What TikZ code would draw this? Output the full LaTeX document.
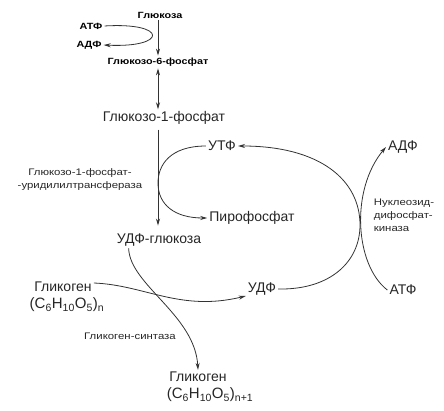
\documentclass[tikz,border=0pt]{standalone}
\usepackage{fontspec}
\setmainfont{Liberation Sans}
\newfontfamily\widefont[FakeStretch=1.2]{Liberation Sans}
\usepackage{tikz}
\usetikzlibrary{arrows.meta,positioning}

\begin{document}
\begin{tikzpicture}[
    x=1pt, y=-1pt,
    big/.style={font=\fontsize{14}{16}\selectfont, inner sep=2pt, text=black!85},
    formula/.style={font=\fontsize{15}{17}\selectfont, inner sep=1pt, text=black!85},
    small/.style={font=\widefont\fontsize{9.5}{13}\selectfont, align=center, inner sep=1pt, text=black!85},
    top/.style={font=\widefont\bfseries\fontsize{9}{11}\selectfont, inner sep=2pt},
    arrow/.style={-{Stealth[length=7pt,width=4pt]}, line width=0.8pt, black!80},
    line/.style={line width=0.8pt, black!80}
]
\useasboundingbox (0,0) rectangle (444,411);
\node[top] (glc) at (160,15) {Глюкоза};
\node[top] (atf1) at (91,26) {АТФ};
\node[top] (adf1) at (89,45) {АДФ};
\node[top] (g6p) at (158,62) {Глюкозо-6-фосфат};
\node[big] (g1p) at (164,118) {Глюкозо-1-фосфат};
\node[big] (utf) at (222,146) {УТФ};
\node[big] (ppi) at (252,218) {Пирофосфат};
\node[big] (udpglc) at (159,240) {УДФ-глюкоза};
\node[big] (udf) at (262,289) {УДФ};
\node[big] (adf2) at (403,147) {АДФ};
\node[big] (atf2) at (403,290) {АТФ};
\node[small] (ugpase) at (80,180) {Глюкозо-1-фосфат-\\-уридилилтрансфераза};
\node[small, align=left] (ndk) at (404,215) {Нуклеозид-\\дифосфат-\\киназа};
\node[small] (gs) at (130,336) {Гликоген-синтаза};
\node[big] (glyc) at (63,287) {Гликоген};
\node[formula] (glycn) at (67,305) {(C\textsubscript{6}H\textsubscript{10}O\textsubscript{5})\textsubscript{n}};
\node[big] (glyc1) at (198,377) {Гликоген};
\node[formula] (glyc1n) at (210,395) {(C\textsubscript{6}H\textsubscript{10}O\textsubscript{5})\textsubscript{n+1}};
\coordinate (bend) at (360,225);

\draw[arrow] (g6p.south |- glc.south) -- (g6p.north);
\draw[arrow] (atf1.east) .. controls (168,22) and (168,48) .. (adf1.east);
\draw[arrow, {Stealth[length=7pt,width=4pt]}-{Stealth[length=7pt,width=4pt]}] (g6p.south) -- (g6p.south |- g1p.north);
\draw[arrow, shorten <=3pt, shorten >=6pt] (g6p.south |- g1p.south) -- (g6p.south |- udpglc.north);
\draw[arrow] (utf.west) .. controls (170,146) and (158,165) .. (158,183)
    .. controls (158,205) and (175,218) .. (ppi.west);
\draw[arrow] (udf.east) .. controls (330,290) and (360,262) .. (bend)
    .. controls (360,180) and (320,146) .. (utf.east);
\draw[arrow] (atf2.west) .. controls (355,265) and (350,190) .. (adf2.west);
\draw[arrow] ([yshift=4pt]glyc.east) .. controls (145,285) and (180,312) .. ([yshift=-7pt]udf.west);
\draw[arrow] ([xshift=14pt]udpglc.south west) .. controls (130,285) and (195,315) .. (glyc1.north);
\end{tikzpicture}
\end{document}
